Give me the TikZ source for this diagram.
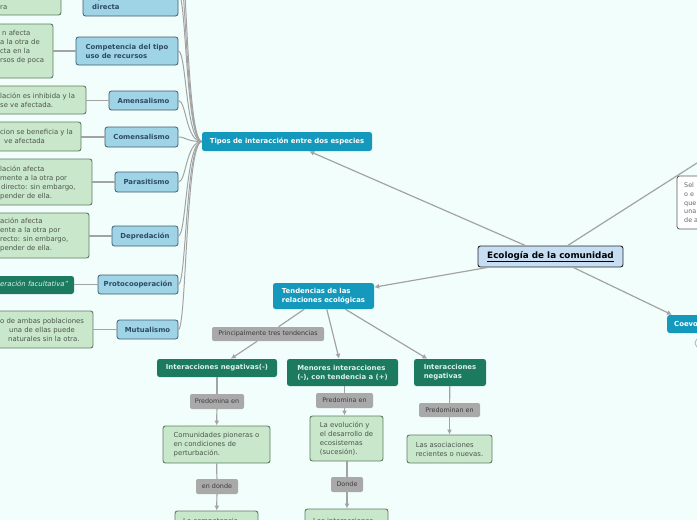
\documentclass[tikz,border=0pt]{standalone}
\usepackage{fontspec}
\setmainfont{DejaVu Sans}
\usetikzlibrary{arrows.meta}
\definecolor{bgc}{HTML}{F2FEFC}
\definecolor{bluefill}{HTML}{9ED4E6}
\definecolor{bluebd}{HTML}{3E5C6E}
\definecolor{bluetx}{HTML}{2F4A64}
\definecolor{greenfill}{HTML}{C9E7CB}
\definecolor{greenbd}{HTML}{5F7C62}
\definecolor{greentx}{HTML}{4C564C}
\definecolor{tealc}{HTML}{1499BC}
\definecolor{dgreen}{HTML}{1C7A5F}
\definecolor{dgtx}{HTML}{DDF2E8}
\definecolor{lblfill}{HTML}{A9A9A9}
\definecolor{lbltx}{HTML}{3C3C3C}
\definecolor{linec}{HTML}{A3A3A3}
\definecolor{ecofill}{HTML}{C6DDF2}
\newcommand{\fsz}{\fontsize{6.9}{9}\selectfont}
\newcommand{\fsl}{\fontsize{6.4}{8.5}\selectfont}
\newcommand{\fsb}{\fontsize{8.8}{10}\selectfont}
\begin{document}
\begin{tikzpicture}[x=1pt,y=-1pt,
  base/.style={rounded corners=2.5pt, inner sep=0pt, font=\fsz, align=left},
  bbox/.style={base, draw=bluebd, fill=bluefill, line width=0.8pt, text=bluetx, font=\fsz\bfseries},
  gbox/.style={base, draw=greenbd, fill=greenfill, line width=0.9pt, text=greentx},
  tbox/.style={base, fill=tealc, text=white, font=\fsz\bfseries},
  dbox/.style={base, fill=dgreen, text=dgtx, font=\fsz\bfseries},
  lbox/.style={base, fill=lblfill, text=lbltx, font=\fsl, rounded corners=2pt},
  gtxt/.style={inner sep=0pt, anchor=west, text=greentx, font=\fsz, text height=5pt, text depth=1.5pt},
  btxt/.style={gtxt, text=bluetx, font=\fsz\bfseries},
  conn/.style={draw=linec, line width=1.2pt},
  arr/.style={conn, -{Latex[length=5pt,width=5pt]}}]
\useasboundingbox (0,0) rectangle (697,520);
\clip (0,0) rectangle (697,520);
\fill[bgc] (-5,-5) rectangle (702,525);

% ---------- left column (cut at the edge) ----------
\node[gbox, minimum width=71pt, minimum height=40pt] (gA) at (25.5,-5) {};
\node[gtxt, anchor=east] (gAt1) at (52,-1.8) {dominando sobre};
\node[gtxt] (gAt2) at (0,7.5) {ra};
\node[bbox, minimum width=95pt, minimum height=46pt] (bA) at (130.5,-7) {};
\node[btxt] (bAt1) at (92,-1.8) {tipo interferencia};
\node[btxt] (bAt2) at (92,7.5) {directa};

\node[gbox, minimum width=63pt, minimum height=54pt] (gB) at (21.5,51) {};
\node[gtxt] (gBt1) at (2,34) {n afecta};
\node[gtxt] (gBt2) at (0,43) {a la otra de};
\node[gtxt] (gBt3) at (0,52) {cta en la};
\node[gtxt] (gBt4) at (0,61) {rsos de poca};
\node[bbox, minimum width=102pt, minimum height=28pt] (comp) at (127,51) {Competencia del tipo\\uso de recursos};

\node[gbox, minimum width=96pt, minimum height=28pt] (gC) at (38,100) {};
\node[gtxt] (gCt1) at (0,97) {lación es inhibida y la};
\node[gtxt] (gCt2) at (0,105.5) {se ve afectada.};
\node[bbox, minimum width=69pt, minimum height=19pt] (amen) at (143.5,100.5) {Amensalismo};

\node[gbox, minimum width=91pt, minimum height=29pt] (gD) at (35.5,136.5) {};
\node[gtxt] (gDt1) at (0,133) {cion se beneficia y la};
\node[gtxt] (gDt2) at (4,142) {ve afectada};
\node[bbox, minimum width=73pt, minimum height=20pt] (come) at (141.5,137) {Comensalismo};

\node[gbox, minimum width=102pt, minimum height=46pt] (gE) at (41,182) {};
\node[gtxt] (gEt1) at (0,170) {lación afecta};
\node[gtxt] (gEt2) at (0,179) {mente a la otra por};
\node[gtxt] (gEt3) at (1,188) {directo: sin embargo,};
\node[gtxt] (gEt4) at (0,197) {pender de ella.};
\node[bbox, minimum width=63pt, minimum height=20pt] (para) at (146.5,182) {Parasitismo};

\node[gbox, minimum width=99pt, minimum height=45pt] (gF) at (39.5,235.5) {};
\node[gtxt] (gFt1) at (0,222) {ación afecta};
\node[gtxt] (gFt2) at (0,231) {ente a la otra por};
\node[gtxt] (gFt3) at (0,240) {recto: sin embargo,};
\node[gtxt] (gFt4) at (0,248.5) {pender de ella.};
\node[bbox, minimum width=66pt, minimum height=20pt] (depr) at (145,236) {Depredación};

\node[dbox, minimum width=84pt, minimum height=18pt] (gG) at (32,285) {};
\node[gtxt, text=dgtx, font=\fsz\itshape] (gGt) at (0,285) {eración facultativa"};
\node[bbox, minimum width=80pt, minimum height=19pt] (prot) at (138,284.5) {Protocooperación};

\node[gbox, minimum width=103pt, minimum height=37pt] (gH) at (41.5,329.5) {};
\node[gtxt] (gHt1) at (0,322) {o de ambas poblaciones};
\node[gtxt] (gHt2) at (9,331) {una de ellas puede};
\node[gtxt] (gHt3) at (8,340) {naturales sin la otra.};
\node[bbox, minimum width=61pt, minimum height=19pt] (mutu) at (147.5,329.5) {Mutualismo};

\node[tbox, minimum width=170pt, minimum height=19pt] (tipos) at (287,141.5) {Tipos de interacción entre dos especies};

% connectors of the left column
\coordinate (offa) at (178,-40);
\coordinate (offb) at (178,-80);
\draw[conn] (gB.east) -- (comp.west);
\draw[conn] (amen.west -| gC.east) -- (amen.west);
\draw[conn] (come.west -| gD.east) -- (come.west);
\draw[conn] (para.west -| gE.east) -- (para.west);
\draw[conn] (depr.west -| gF.east) -- (depr.west);
\draw[conn] (prot.west -| gG.east) -- (prot.west);
\draw[conn] (mutu.west -| gH.east) -- (mutu.west);
\foreach \n in {offa,offb,bA.east,comp.east,amen.east,come.east,para.east,depr.east,prot.east,mutu.east}
  \draw[conn, line width=1pt] (\n) .. controls +(8,0) and +(-16,0) .. (tipos.west);

% ---------- centre ----------
\node[base, draw=black!85, fill=ecofill, line width=0.9pt, font=\fsb\bfseries, minimum width=145pt, minimum height=21pt] (eco) at (550.5,256.5) {\underline{Ecología de la comunidad}};
\node[tbox, minimum width=101pt, minimum height=26pt] (tend) at (323.5,296) {Tendencias de las\\relaciones ecológicas};
\node[tbox, anchor=west, inner xsep=7pt, minimum height=18pt] (coevo) at (667,324) {Coevolución};
\draw[draw=black!30, line width=0.8pt] (700,343) circle (5);
\node (coevoicon) at (700,343) {};

\coordinate (selend) at (780,110);
\draw[conn] (eco) -- (selend);
\node[base, draw=black!65, fill=white, line width=0.8pt, minimum width=83pt, minimum height=53pt] (sel) at (718.5,202.5) {};
\node[gtxt, text=black!60, font=\fsl] (selt1) at (684,186) {Sel};
\node[gtxt, text=black!60, font=\fsl] (selt2) at (684,195) {o e};
\node[gtxt, text=black!60, font=\fsl] (selt3) at (684,203.5) {que};
\node[gtxt, text=black!60, font=\fsl] (selt4) at (684,212) {una};
\node[gtxt, text=black!60, font=\fsl] (selt5) at (684,221) {de a};

\draw[arr] (eco) -- (tipos);
\draw[arr] (eco) -- (tend);
\draw[arr] (eco) -- ([xshift=5pt]coevo.north west);

% ---------- tendencias subtree ----------
\node[lbox, minimum width=112pt, minimum height=14pt] (lbl1) at (268,334) {Principalmente tres tendencias};
\node[dbox, minimum width=120pt, minimum height=18pt] (in1) at (217,368) {Interacciones negativas(-)};
\node[dbox, minimum width=111pt, minimum height=27pt] (mi) at (342.5,372.5) {Menores interacciones\\(-), con tendencia a (+)};
\node[dbox, minimum width=72pt, minimum height=27pt] (in2) at (450,372.5) {Interacciones\\negativas};

\draw[conn] (tend) -- (lbl1);
\draw[arr] (lbl1) -- (in1);
\draw[arr] (tend) -- (mi);
\draw[arr] (tend) -- (in2);

\node[lbox, minimum width=54pt, minimum height=15pt] (lbl2) at (217,401.5) {Predomina en};
\node[gbox, minimum width=107pt, minimum height=37pt] (c1) at (216.5,444.5) {Comunidades pioneras o\\en condiciones de\\perturbación.};
\node[lbox, minimum width=42pt, minimum height=15pt] (lbl3) at (217,486.5) {en donde};
\node[gbox, minimum width=83pt, minimum height=49pt] (b1) at (216.5,535.5) {};
\node[gtxt] (b1t) at (183,521.5) {La competencia};

\node[lbox, minimum width=57pt, minimum height=15pt] (lbl4) at (344.5,400.5) {Predomina en};
\node[gbox, minimum width=73pt, minimum height=45pt] (c2) at (346.5,438.5) {La evolución y\\el desarrollo de\\ecosistemas\\(sucesión).};
\node[lbox, minimum width=32pt, minimum height=15pt] (lbl5) at (347,484.5) {Donde};
\node[gbox, minimum width=83pt, minimum height=51pt] (b2) at (346.5,534.5) {};
\node[gtxt] (b2t) at (313,521.5) {Las interacciones};

\node[lbox, minimum width=61pt, minimum height=14pt] (lbl6) at (449.5,410) {Predominan en};
\node[gbox, minimum width=85pt, minimum height=28pt] (c3) at (449.5,449) {Las asociaciones\\recientes o nuevas.};

\draw[conn] (in1) -- (lbl2);
\draw[arr] (lbl2) -- (c1);
\draw[conn] (c1) -- (lbl3);
\draw[arr] (lbl3) -- (b1);
\draw[conn] (lbl4.north) -- (lbl4.north |- mi.south);
\draw[arr] (lbl4.south) -- (lbl4.south |- c2.north);
\draw[conn] (lbl5.north) -- (lbl5.north |- c2.south);
\draw[arr] (lbl5.south) -- (lbl5.south |- b2.north);
\draw[conn] (in2) -- (lbl6);
\draw[arr] (lbl6) -- (c3);
\end{tikzpicture}
\end{document}
